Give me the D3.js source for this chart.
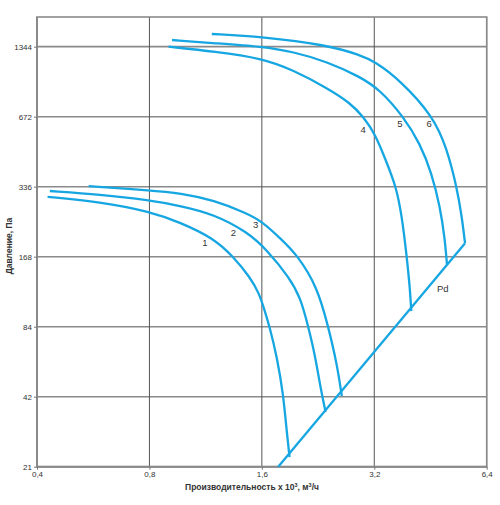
<!DOCTYPE html>
<html>
<head>
<meta charset="utf-8">
<script src="https://cdn.jsdelivr.net/npm/d3@7"></script>
<style>
	body { margin: 0; background: #fff; }
	text { font-family: "Liberation Sans", Arial, sans-serif; fill: #333; }
</style>
</head>
<body>
<div id="chart"></div>
<script>
// Значения (производительность x 10^3 м3/ч, давление Па)
const xTicks = [0.4, 0.8, 1.6, 3.2, 6.4];
const yTicks = [21, 42, 84, 168, 336, 672, 1344];

const flow1 = [0.427, 0.59, 0.80, 0.966, 1.186, 1.342, 1.488, 1.573, 1.627, 1.678, 1.757, 1.824, 1.867, 1.898];
const press1 = [304, 289, 263, 236, 202, 168, 137, 117, 99, 84, 62, 43.6, 29.3, 23.1];

const flow2 = [0.433, 0.59, 0.80, 0.97, 1.19, 1.46, 1.65, 1.90, 2.03, 2.13, 2.22, 2.29, 2.37];
const press2 = [322, 311, 294, 278, 256, 215, 180, 136, 112, 84, 63.5, 47.2, 36.1];

const flow3 = [0.55, 0.80, 0.97, 1.19, 1.46, 1.60, 1.79, 1.99, 2.25, 2.41, 2.54, 2.62];
const press3 = [338, 324, 315, 294, 258, 238, 202, 171, 125, 84, 58.5, 42.3];

const flow4 = [0.90, 1.20, 1.60, 1.94, 2.39, 2.76, 2.99, 3.22, 3.46, 3.66, 3.79, 3.91, 3.99, 4.02];
const press4 = [1344, 1279, 1198, 1067, 893, 770, 672, 566, 424, 336, 254, 168, 121, 98];

const flow5 = [0.92, 1.20, 1.60, 1.94, 2.39, 2.93, 3.32, 3.83, 4.24, 4.56, 4.80, 4.95, 5.01];
const press5 = [1436, 1390, 1344, 1279, 1159, 999, 875, 672, 516, 384, 276, 198, 155];

const flow6 = [1.175, 1.60, 2.39, 2.93, 3.21, 3.75, 4.61, 5.00, 5.32, 5.49, 5.60];
const press6 = [1524, 1484, 1367, 1238, 1159, 966, 672, 493, 336, 250, 192];

// линия динамического давления Pd
const flowPd = [1.77, 5.60];
const pressPd = [21, 192];

const curveFlows = [flow1, flow2, flow3, flow4, flow5, flow6];
const curvePressures = [press1, press2, press3, press4, press5, press6];

const labelTexts = ["1", "2", "3", "4", "5", "6", "Pd"];
const labelFlow = [1.127, 1.342, 1.541, 2.99, 3.75, 4.49, 4.88];
const labelPressure = [194, 214, 232, 593, 630, 630, 122];

(function (d3) {
	"use strict";

	const width = 500, height = 505;
	const margin = { top: 17, right: 13.3, bottom: 38.3, left: 37 };
	const innerW = width - margin.left - margin.right;
	const innerH = height - margin.top - margin.bottom;

	const svg = d3.select("#chart").append("svg")
		.attr("width", width)
		.attr("height", height);
	const g = svg.append("g")
		.attr("transform", "translate(" + margin.left + "," + margin.top + ")");

	const x = d3.scaleLog().base(2).domain([0.4, 6.4]).range([0, innerW]);
	const y = d3.scaleLog().base(2).domain([21, 1803]).range([innerH, 0]);

	const comma = d => String(d).replace(".", ",");

	// сетка
	g.append("g").selectAll("line").data(yTicks).join("line")
		.attr("x1", 0).attr("x2", innerW)
		.attr("y1", d => y(d)).attr("y2", d => y(d))
		.attr("stroke", "#8a8a8a").attr("stroke-width", 1.6);
	g.append("g").selectAll("line").data(xTicks).join("line")
		.attr("x1", d => x(d)).attr("x2", d => x(d))
		.attr("y1", 0).attr("y2", innerH)
		.attr("stroke", "#555").attr("stroke-width", 1);

	// рамка
	g.append("rect")
		.attr("width", innerW).attr("height", innerH)
		.attr("fill", "none").attr("stroke", "#8a8a8a").attr("stroke-width", 1.6);
	g.append("line").attr("x1", 0).attr("x2", 0).attr("y1", 0).attr("y2", innerH)
		.attr("stroke", "#8a8a8a").attr("stroke-width", 2);
	g.append("line").attr("x1", 0).attr("x2", innerW).attr("y1", innerH).attr("y2", innerH)
		.attr("stroke", "#8a8a8a").attr("stroke-width", 2);

	// оси
	const xAxis = g.append("g")
		.attr("transform", "translate(0," + innerH + ")")
		.call(d3.axisBottom(x).tickValues(xTicks).tickFormat(comma).tickSize(3).tickPadding(2));
	const yAxis = g.append("g")
		.call(d3.axisLeft(y).tickValues(yTicks).tickFormat(d => d).tickSize(3).tickPadding(2));
	[xAxis, yAxis].forEach(a => {
		a.select(".domain").remove();
		a.selectAll(".tick line").attr("stroke", "#777");
		a.selectAll(".tick text")
			.attr("fill", "#333")
			.style("font-family", "'Liberation Sans', Arial, sans-serif")
			.style("font-size", "8px");
	});

	// кривые (сглаживание B-сплайном)
	const line = d3.line()
		.x(d => x(d[0]))
		.y(d => y(d[1]))
		.curve(d3.curveBasis);

	curveFlows.forEach((flows, i) => {
		const pts = flows.map((f, j) => [f, curvePressures[i][j]]);
		g.append("path")
			.attr("d", line(pts))
			.attr("fill", "none")
			.attr("stroke", "#16a6e2")
			.attr("stroke-width", 2.3);
	});

	g.append("path")
		.attr("d", d3.line().x(d => x(d[0])).y(d => y(d[1]))(flowPd.map((f, j) => [f, pressPd[j]])))
		.attr("fill", "none")
		.attr("stroke", "#16a6e2")
		.attr("stroke-width", 2.3);

	// подписи кривых
	g.append("g").selectAll("text").data(labelTexts).join("text")
		.attr("x", (d, i) => x(labelFlow[i]))
		.attr("y", (d, i) => y(labelPressure[i]))
		.attr("text-anchor", "middle")
		.attr("dominant-baseline", "central")
		.style("font-size", "9.5px")
		.text(d => d);

	// заголовки осей
	const xt = svg.append("text")
		.attr("x", 252).attr("y", 490)
		.attr("text-anchor", "middle")
		.style("font-size", "8.5px")
		.style("font-weight", "bold");
	xt.append("tspan").text("Производительность x 10");
	xt.append("tspan").attr("dy", -3).style("font-size", "5.5px").text("3");
	xt.append("tspan").attr("dy", 3).text(", м");
	xt.append("tspan").attr("dy", -3).style("font-size", "5.5px").text("3");
	xt.append("tspan").attr("dy", 3).text("/ч");

	svg.append("text")
		.attr("transform", "translate(12,246) rotate(-90)")
		.attr("text-anchor", "middle")
		.style("font-size", "8.5px")
		.style("font-weight", "bold")
		.text("Давление, Па");
})(d3);
</script>
</body>
</html>
